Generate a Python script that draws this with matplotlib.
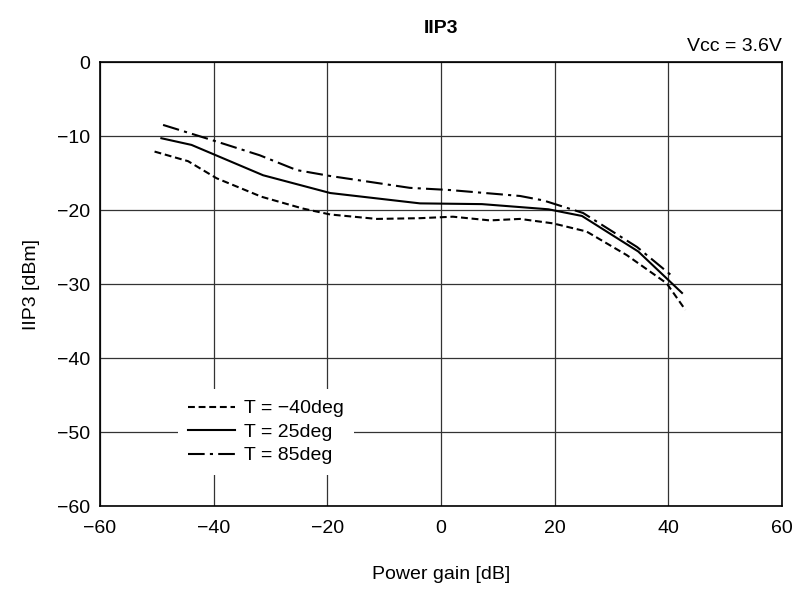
import matplotlib.pyplot as plt

plt.rcParams['font.family'] = ['Liberation Sans', 'DejaVu Sans']

# gain [dB] vs IIP3 [dBm]
gain_m40 = [-50.4, -44.5, -39.5, -31.6, -24.3, -19.5, -11.3, -3.7, 2.1, 8.6, 13.9, 19.7, 25.6, 32.7, 39.7, 43.0]
iip3_m40 = [-12.1, -13.4, -15.7, -18.2, -19.8, -20.6, -21.2, -21.1, -20.9, -21.4, -21.2, -21.8, -22.9, -26.1, -29.9, -33.5]

gain_25 = [-49.2, -43.9, -31.3, -19.5, -3.7, 7.2, 18.9, 24.8, 34.7, 42.4]
iip3_25 = [-10.3, -11.2, -15.3, -17.7, -19.1, -19.2, -19.9, -20.8, -25.6, -31.2]

gain_85 = [-48.9, -40.7, -31.9, -25.4, -19.5, -5.5, 1.6, 13.9, 18.0, 25.0, 34.5, 40.8]
iip3_85 = [-8.5, -10.45, -12.6, -14.6, -15.4, -17.0, -17.3, -18.1, -18.7, -20.4, -25.0, -29.0]

labels = ['T = \u221240deg', 'T = 25deg', 'T = 85deg']
xticks = [-60, -40, -20, 0, 20, 40, 60]
yticks = [0, -10, -20, -30, -40, -50, -60]

fs = 14

fig = plt.figure(figsize=(7.98, 5.94), dpi=100)
ax = fig.add_axes([0.1253, 0.148, 0.8547, 0.7476])

ax.plot(gain_m40, iip3_m40, color='black', lw=1.5, linestyle=(0, (3.3, 1.8)), label=labels[0])
ax.plot(gain_25, iip3_25, color='black', lw=1.5, linestyle='-', label=labels[1])
ax.plot(gain_85, iip3_85, color='black', lw=1.5, linestyle=(0, (8, 2.5, 1.5, 2.5)), label=labels[2])

ax.set_xlim(-60, 60)
ax.set_ylim(-60, 0)
ax.set_xticks(xticks)
ax.set_yticks(yticks)
ax.grid(True, color='#333333', lw=0.9)
ax.set_axisbelow(True)
ax.tick_params(axis='x', length=0, labelsize=fs, pad=10)
ax.tick_params(axis='y', length=0, labelsize=fs, pad=7)
for s in ax.spines.values():
    s.set_linewidth(1.2)

ax.set_xlabel('Power gain [dB]', fontsize=fs, labelpad=21)
ax.set_ylabel('IIP3 [dBm]', fontsize=fs, labelpad=12)
fig.text(0.5526, 0.952, 'IIP3', ha='center', va='center', fontsize=fs, fontweight='bold')
fig.text(0.98, 0.921, 'Vcc = 3.6V', ha='right', va='center', fontsize=fs)

leg = ax.legend(loc='lower left', bbox_to_anchor=(0.114, 0.07), borderaxespad=0,
                fontsize=fs, frameon=True, fancybox=False, edgecolor='none',
                facecolor='white', framealpha=1, handlelength=2.4, handletextpad=0.45,
                labelspacing=0.3, borderpad=0.55)

fig.savefig('out.png', dpi=100)
